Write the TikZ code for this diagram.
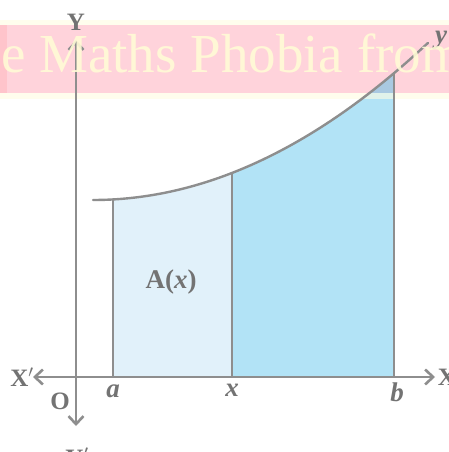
\documentclass[tikz,border=0pt]{standalone}
\usepackage{fontspec}
\setmainfont{Liberation Serif}
\usetikzlibrary{arrows.meta}
\definecolor{axisgray}{HTML}{8E8E8E}
\definecolor{labgray}{HTML}{737373}
\definecolor{lightfill}{HTML}{E1F1FA}
\definecolor{darkfill}{HTML}{B2E3F6}
\definecolor{bandpink}{HTML}{FFD3DB}
\definecolor{bandyellow}{HTML}{FFFDE2}
\definecolor{bandblue}{HTML}{A9C9E1}
\definecolor{marktext}{HTML}{FFFBD6}
\tikzset{
  axisline/.style={draw=axisgray, line width=2.6pt},
  axisarrow/.style={axisline, -{Straight Barb[length=8pt,width=15pt,line width=2.6pt]}},
  edge/.style={draw=axisgray, line width=2.4pt},
  biglab/.style={text=labgray, font=\fontsize{25}{25}\selectfont\bfseries, inner sep=0pt},
  itlab/.style={text=labgray, font=\fontsize{27}{27}\selectfont\bfseries\itshape, inner sep=0pt},
}
\begin{document}
\begin{tikzpicture}[x=1pt,y=-1pt]
\useasboundingbox (0,0) rectangle (449,452);
\fill[white] (0,0) rectangle (449,452);
% shaded regions
\fill[lightfill] (113,377) -- plot[domain=113:232,samples=40] (\x,{200-0.14*((\x-93)/10)^2}) -- (232,377) -- cycle;
\fill[darkfill] (232,377) -- plot[domain=232:394,samples=50] (\x,{200-0.14*((\x-93)/10)^2}) -- (394,377) -- cycle;
% watermark band
\fill[bandyellow, opacity=0.6] (0,20) rectangle (449,99);
\fill[bandpink] (0,25) rectangle (449,93);
\fill[bandpink!80!red, opacity=0.35] (0,25) rectangle (7,93);
\begin{scope}
\clip (232,377) -- plot[domain=232:394,samples=50] (\x,{200-0.14*((\x-93)/10)^2}) -- (394,377) -- cycle;
\fill[bandblue] (0,25) rectangle (449,93);
\end{scope}
% coordinates
\coordinate (O) at (76,377);
\coordinate (Ytop) at (76,40);
\coordinate (Ybot) at (76,426);
\coordinate (Xl) at (33,377);
\coordinate (Xr) at (435,377);
\coordinate (Aa) at (113,377);
\coordinate (Ax) at (232,377);
\coordinate (Ab) at (394,377);
\coordinate (Ca) at (113,{200-0.14*((113-93)/10)^2});
\coordinate (Cx) at (232,{200-0.14*((232-93)/10)^2});
\coordinate (Cb) at (394,{200-0.14*((394-93)/10)^2});
% verticals
\draw[edge] (Aa) -- (Ca);
\draw[edge] (Ax) -- (Cx);
\draw[edge] (Ab) -- (Cb);
% curve
\draw[edge, line cap=round] plot[domain=93:428,samples=80] (\x,{200-0.14*((\x-93)/10)^2});
% axes
\draw[axisarrow] (O) -- (Ytop);
\draw[axisarrow] (O) -- (Ybot);
\draw[axisarrow] (O) -- (Xl);
\draw[axisarrow] (O) -- (Xr);
% labels
\node[biglab] (lY) at (76,22) {Y};
\node[biglab] (lYp) at (77,457) {Y$'$};
\node[biglab] (lXp) at (22,377) {X$'$};
\node[biglab] (lX) at (447,377) {X};
\node[biglab] (lO) at (60,401) {O};
\node[itlab] (la) at (113,391) {a};
\node[itlab] (lx) at (232,390) {x};
\node[itlab] (lb) at (397,392) {b};
\node[itlab] (ly) at (441,40) {y};
\node[biglab, font=\fontsize{27}{27}\selectfont\bfseries] (lA) at (171,282) {A(\textit{x})};
% watermark text
\begin{scope}
\clip (0,0) rectangle (449,452);
\node[anchor=base west, inner sep=0pt, text=marktext, opacity=0.9,
  font=\fontsize{55}{55}\selectfont] (wm) at (1,73) {e Maths Phobia from};
\end{scope}
\end{tikzpicture}
\end{document}
